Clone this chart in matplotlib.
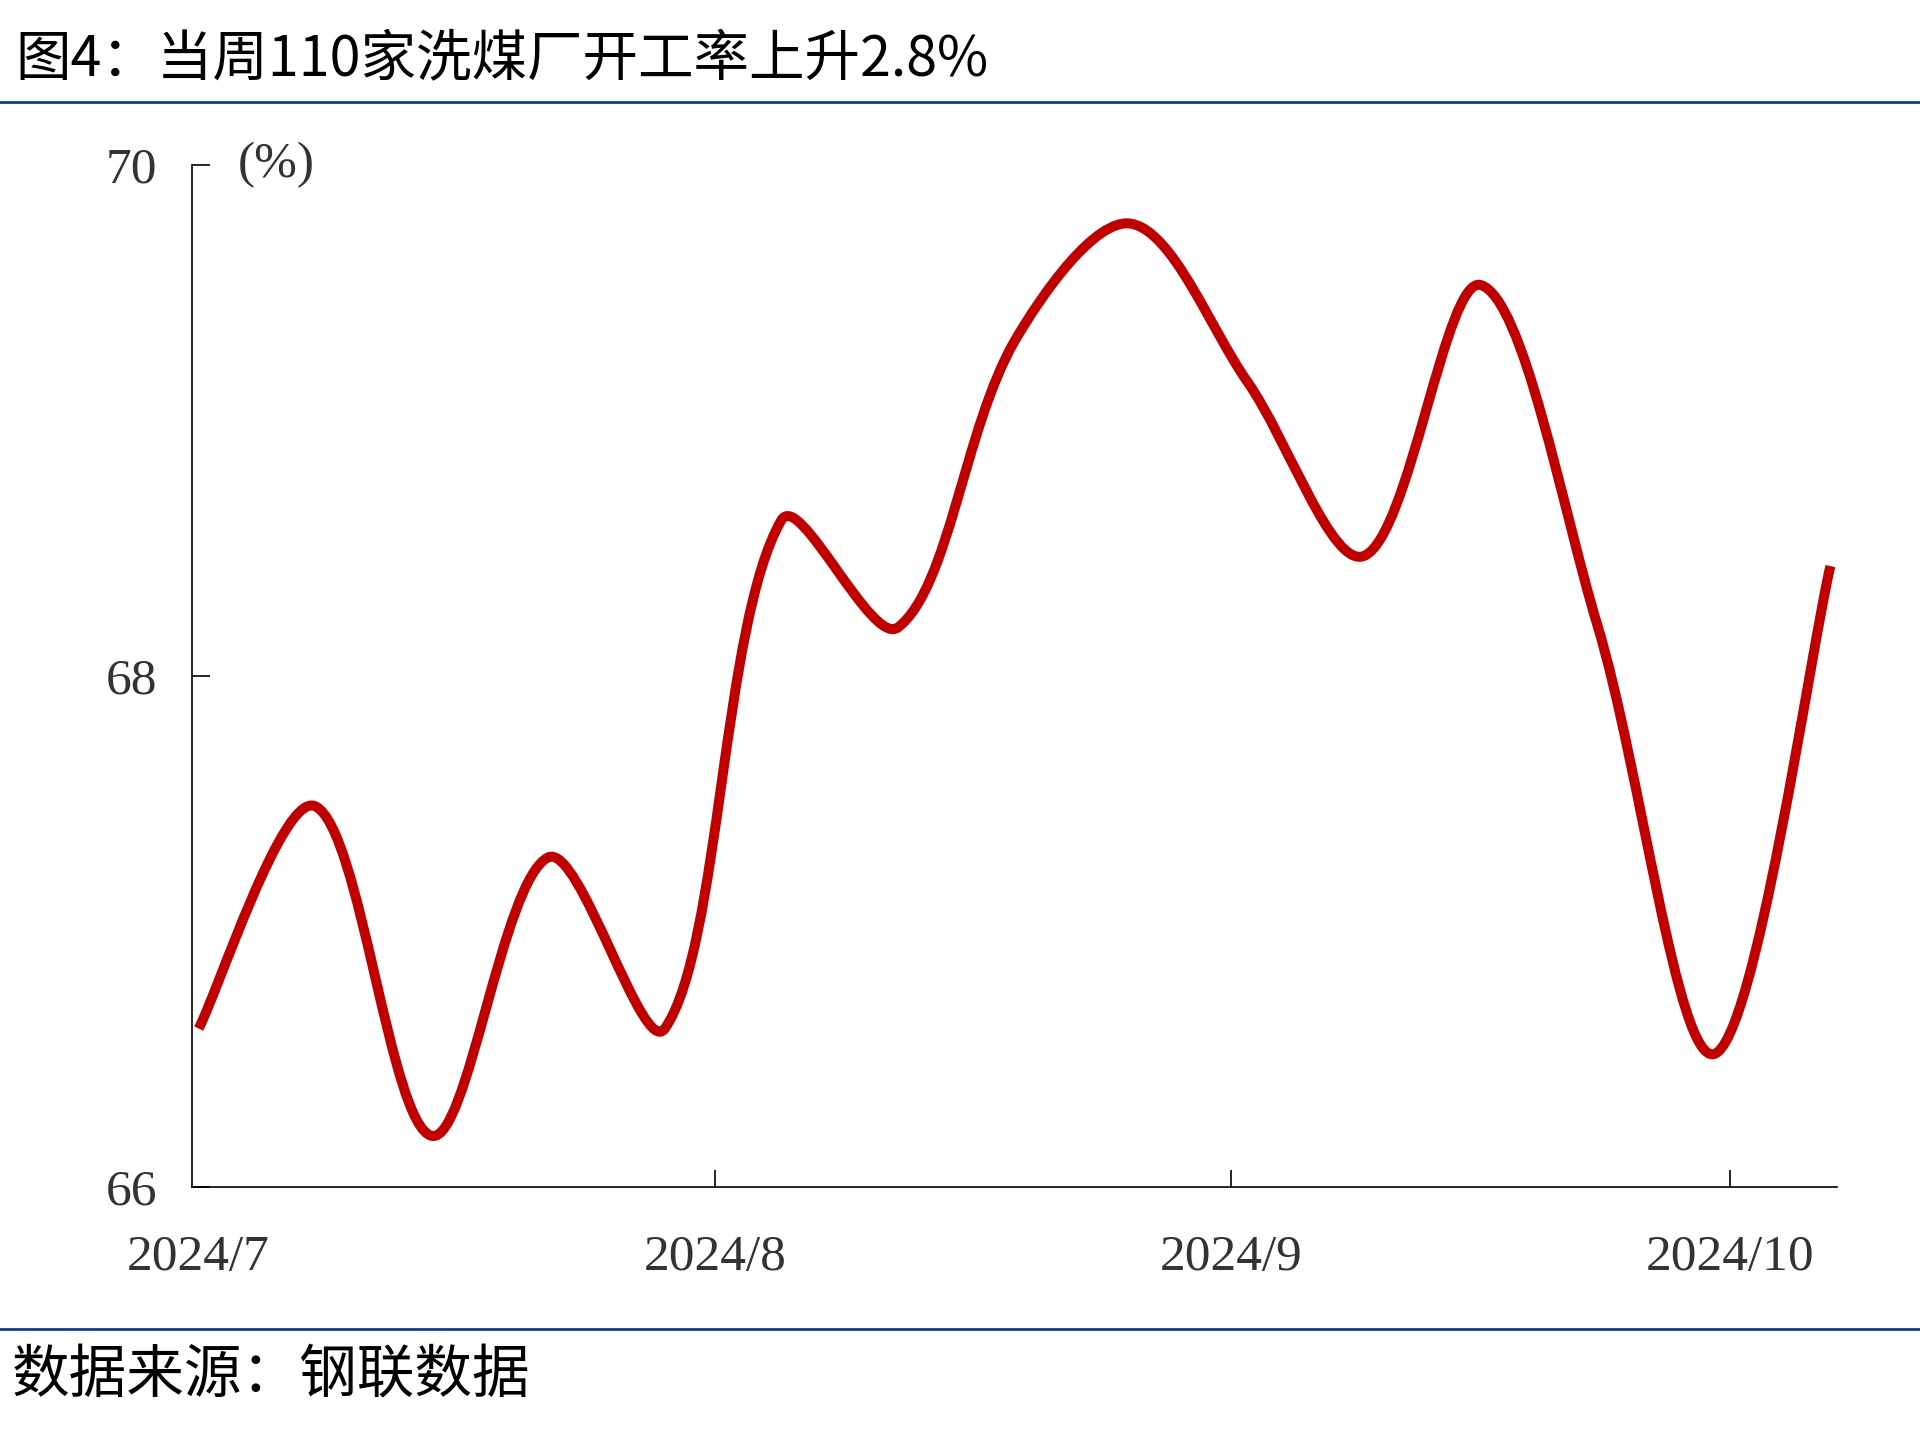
import datetime as dt
import numpy as np
import matplotlib
matplotlib.use("Agg")
import matplotlib.pyplot as plt
import matplotlib.dates as mdates
from matplotlib.path import Path
from matplotlib.patches import PathPatch
from matplotlib.lines import Line2D

# 110家洗煤厂开工率 (%), weekly
start = dt.datetime(2024, 7, 1)
dates = [start + dt.timedelta(days=7 * i) for i in range(15)]
rate = [66.62, 67.49, 66.20, 67.29, 66.62, 68.61, 68.19, 69.31,
        69.77, 69.15, 68.47, 69.53, 68.20, 66.52, 68.43]

tick_dates = [dt.datetime(2024, 7, 1), dt.datetime(2024, 8, 1),
              dt.datetime(2024, 9, 1), dt.datetime(2024, 10, 1)]
tick_labels = ["2024/7", "2024/8", "2024/9", "2024/10"]

title = "图4：当周110家洗煤厂开工率上升2.8%"
source = "数据来源：钢联数据"

plt.rcParams["font.family"] = ["Noto Sans CJK SC", "DejaVu Sans"]
blue = "#123F86"
red = "#C00000"
grey = "#333333"

fig = plt.figure(figsize=(19.2, 14.33), dpi=100)
ax = fig.add_axes([0.1, 0.1717, 0.8568, 0.7132])

x = mdates.date2num(dates)
ax.set_xlim(x[0] - 0.4, x[-1] + 0.4)
ax.set_ylim(66, 70)

# excel-like smoothed line: bezier through the points, tangents weighted
# by segment lengths on screen
pts = ax.transData.transform(np.column_stack([x, rate]))
n = len(pts)
verts = [pts[0]]
codes = [Path.MOVETO]
for i in range(n - 1):
    p0 = pts[i - 1] if i > 0 else pts[i]
    p1, p2 = pts[i], pts[i + 1]
    p3 = pts[i + 2] if i + 2 < n else pts[i + 1]
    d01 = np.hypot(*(p1 - p0))
    d12 = np.hypot(*(p2 - p1))
    d23 = np.hypot(*(p3 - p2))
    f1 = d12 / (d01 + d12) / 1.5 if d01 > 0 else 1 / 3
    f2 = d12 / (d12 + d23) / 1.5 if d23 > 0 else 1 / 3
    c1 = p1 + (p2 - p0) * f1 / 2
    c2 = p2 - (p3 - p1) * f2 / 2
    verts += [c1, c2, p2]
    codes += [Path.CURVE4] * 3
verts = ax.transData.inverted().transform(np.array(verts))
ax.add_patch(PathPatch(Path(verts, codes), fill=False, edgecolor=red,
                       lw=7.2, capstyle="butt", joinstyle="round"))

ax.set_yticks([66, 68, 70])
ax.set_xticks(mdates.date2num(tick_dates))
ax.set_xticklabels(tick_labels)

for s in ["top", "right"]:
    ax.spines[s].set_visible(False)
for s in ["left", "bottom"]:
    ax.spines[s].set_linewidth(1.2)
    ax.spines[s].set_color("black")

ax.tick_params(axis="y", direction="in", length=13, width=1.2, pad=25,
               labelsize=37, labelcolor=grey)
ax.tick_params(axis="x", direction="in", length=12, width=1.2, pad=34,
               labelsize=37, labelcolor=grey)
ax.xaxis.get_major_ticks()[0].tick1line.set_visible(False)
for lab in ax.get_xticklabels() + ax.get_yticklabels():
    lab.set_family("Liberation Serif")

ax.text(0.028, 1.0, "(%)", transform=ax.transAxes, fontsize=37,
        family="Liberation Serif", color=grey, va="center", ha="left")

# header / footer
fig.text(0.0078, 0.9588, title, fontsize=40, va="center", ha="left", color="black")
fig.add_artist(Line2D([0, 1], [0.9288, 0.9288], color=blue, lw=2, transform=fig.transFigure))
fig.add_artist(Line2D([0, 1], [0.0726, 0.0726], color=blue, lw=2, transform=fig.transFigure))
fig.text(0.0063, 0.0405, source, fontsize=41.5, va="center", ha="left", color="black")

fig.savefig("out.png", dpi=100, facecolor="white")
